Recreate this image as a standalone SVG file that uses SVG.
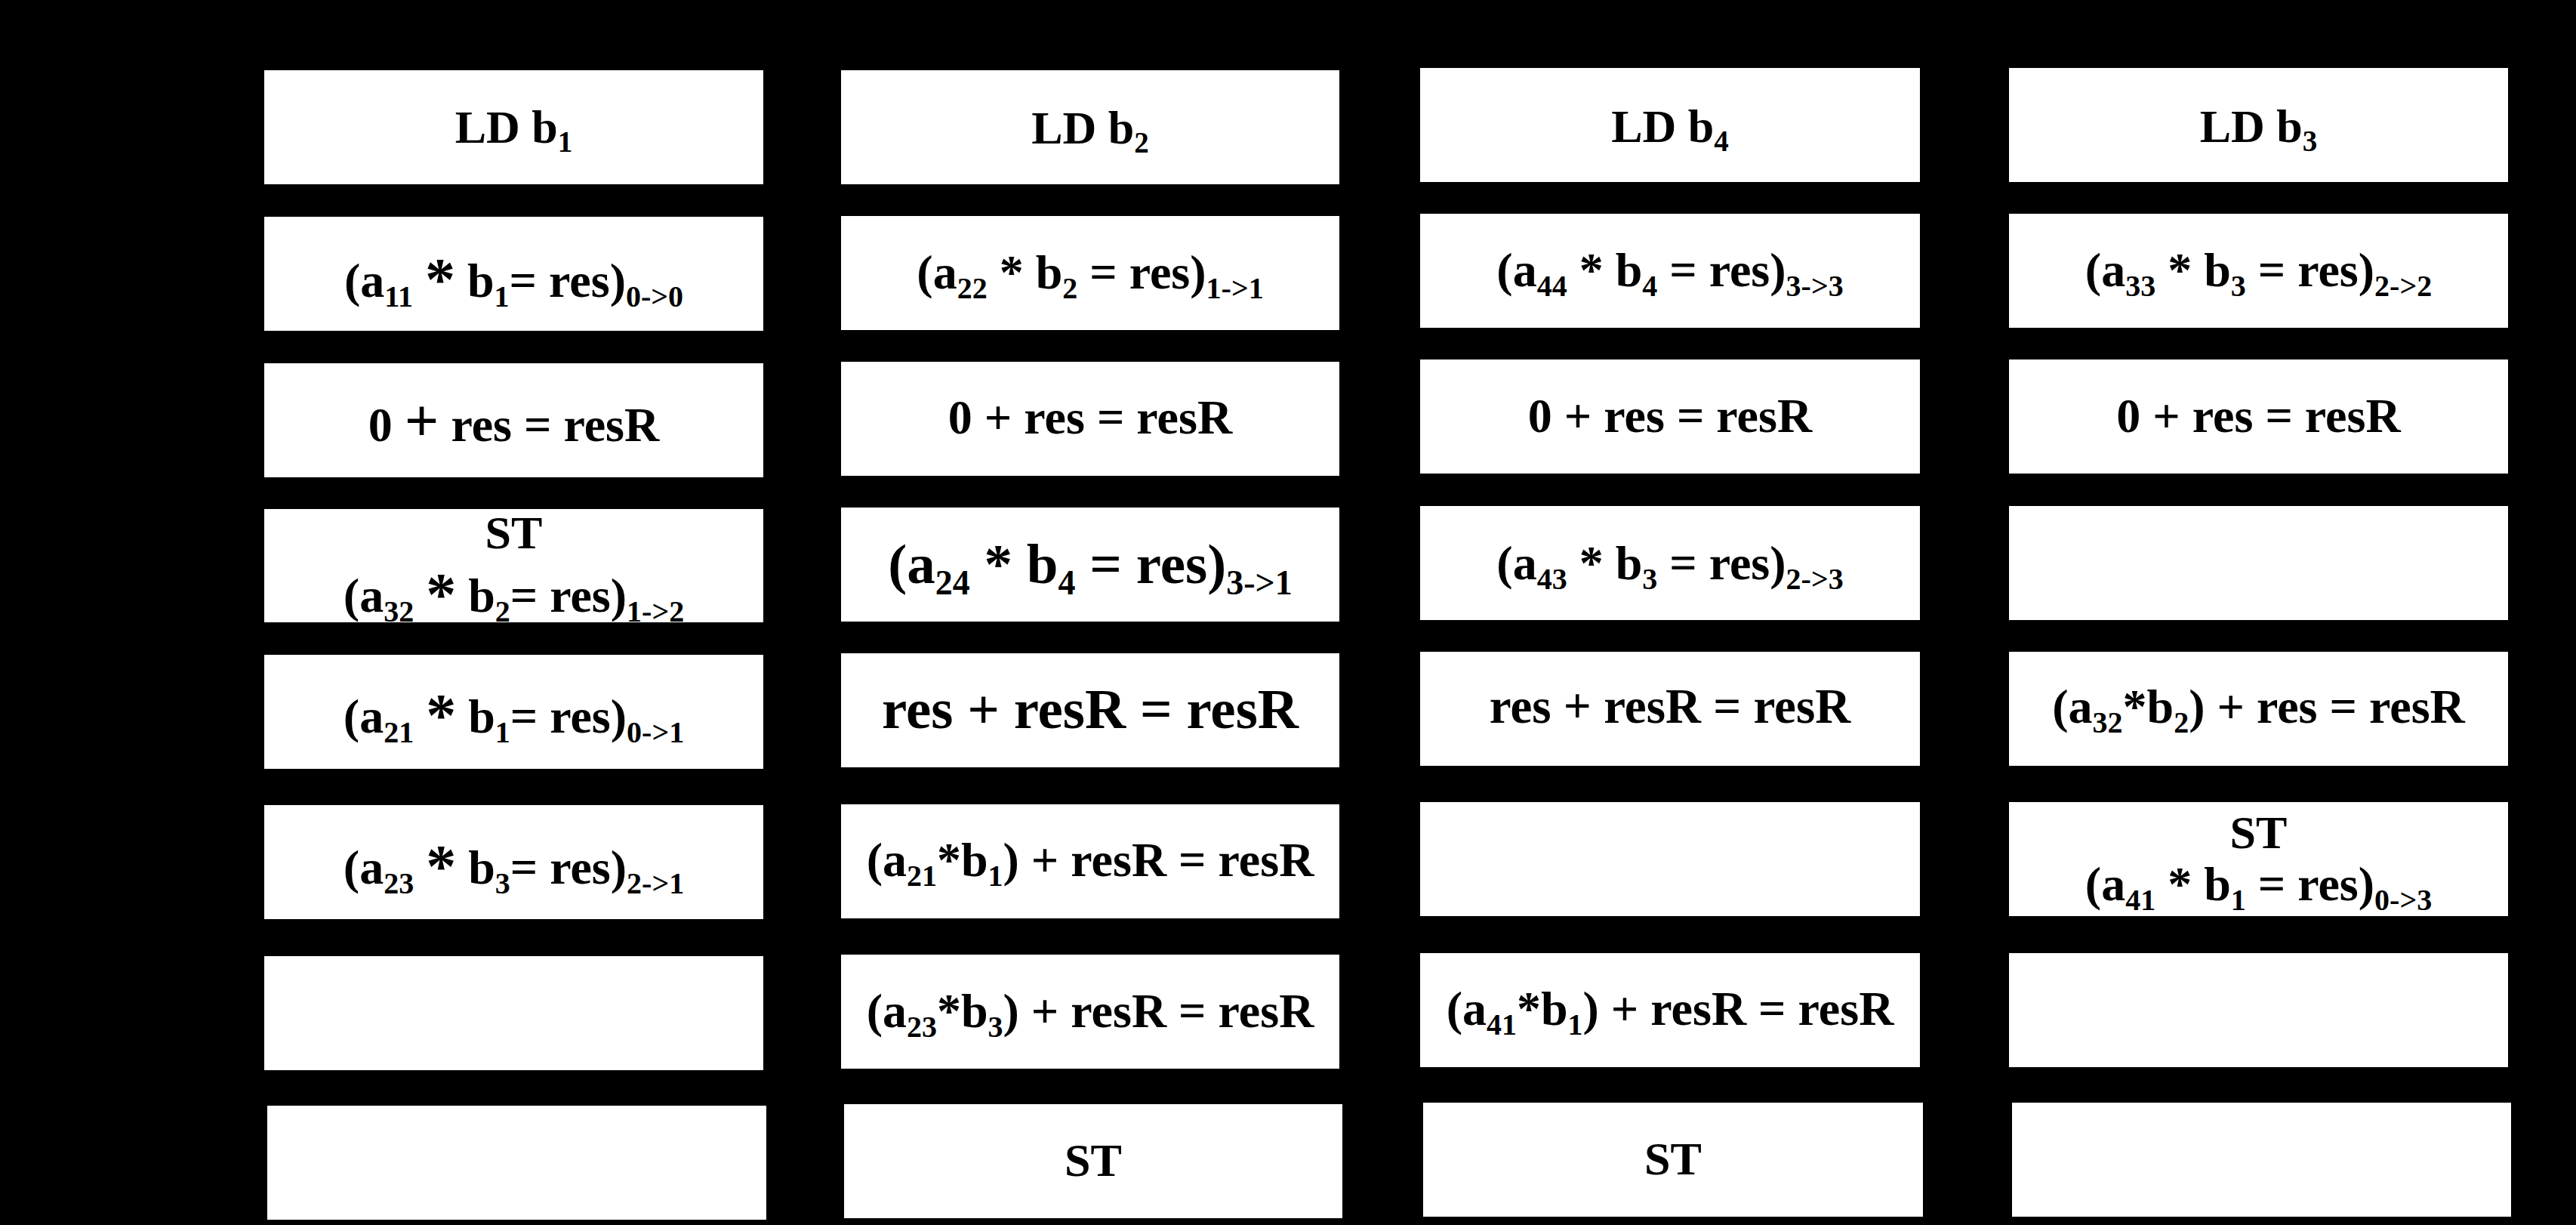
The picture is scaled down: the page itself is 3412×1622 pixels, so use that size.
<svg xmlns="http://www.w3.org/2000/svg" width="3412" height="1622" viewBox="0 0 3412 1622">
<style>
.bg{fill:#000}
.box{fill:#fff}
.t{font-family:"Liberation Serif","Times New Roman",serif;font-weight:bold;font-size:64px;fill:#000;text-anchor:middle;white-space:pre}
.ld{font-size:62px}
.big{font-size:75px}
.m65{font-size:65px}
.sb{font-size:40px}
.big .sb{font-size:46px}
.m65 .sb{font-size:40px}
.ld .sb{font-size:39px}
.ast{font-size:80px}
</style>
<rect class="bg" x="0" y="0" width="3412" height="1622"/>
<g id="connectors"></g>

<!-- Column 1 -->
<g id="c1r1"><rect class="box" x="350" y="93" width="661" height="151"/><text class="t ld" x="680.5" y="189">LD b<tspan class="sb" dy="12">1</tspan></text></g>
<g id="c1r2"><rect class="box" x="350" y="287" width="661" height="151"/><text class="t" x="680.5" y="393">(a<tspan class="sb" dy="13">11</tspan><tspan dy="-13"> </tspan><tspan class="ast" dy="4">*</tspan><tspan dy="-4"> b</tspan><tspan class="sb" dy="13">1</tspan><tspan dy="-13">= res)</tspan><tspan class="sb" dy="13">0-&gt;0</tspan></text></g>
<g id="c1r3"><rect class="box" x="350" y="481" width="661" height="151"/><text class="t" x="680.5" y="584">0 <tspan font-size="80">+</tspan> res = resR</text></g>
<g id="c1r4"><rect class="box" x="350" y="674" width="661" height="150"/><text class="t ld" x="680.5" y="726">ST</text><text class="t" x="680.5" y="810">(a<tspan class="sb" dy="13">32</tspan><tspan dy="-13"> </tspan><tspan class="ast" dy="4">*</tspan><tspan dy="-4"> b</tspan><tspan class="sb" dy="13">2</tspan><tspan dy="-13">= res)</tspan><tspan class="sb" dy="13">1-&gt;2</tspan></text></g>
<g id="c1r5"><rect class="box" x="350" y="867" width="661" height="151"/><text class="t" x="680.5" y="970">(a<tspan class="sb" dy="13">21</tspan><tspan dy="-13"> </tspan><tspan class="ast" dy="4">*</tspan><tspan dy="-4"> b</tspan><tspan class="sb" dy="13">1</tspan><tspan dy="-13">= res)</tspan><tspan class="sb" dy="13">0-&gt;1</tspan></text></g>
<g id="c1r6"><rect class="box" x="350" y="1066" width="661" height="151"/><text class="t" x="680.5" y="1170">(a<tspan class="sb" dy="13">23</tspan><tspan dy="-13"> </tspan><tspan class="ast" dy="4">*</tspan><tspan dy="-4"> b</tspan><tspan class="sb" dy="13">3</tspan><tspan dy="-13">= res)</tspan><tspan class="sb" dy="13">2-&gt;1</tspan></text></g>
<g id="c1r7"><rect class="box" x="350" y="1266" width="661" height="151"/></g>
<g id="c1r8"><rect class="box" x="354" y="1464" width="661" height="151"/></g>

<!-- Column 2 -->
<g id="c2r1"><rect class="box" x="1114" y="93" width="660" height="151"/><text class="t ld" x="1444" y="190">LD b<tspan class="sb" dy="12">2</tspan></text></g>
<g id="c2r2"><rect class="box" x="1114" y="286" width="660" height="151"/><text class="t" x="1444" y="382">(a<tspan class="sb" dy="13">22</tspan><tspan dy="-13"> * b</tspan><tspan class="sb" dy="13">2</tspan><tspan dy="-13"> = res)</tspan><tspan class="sb" dy="13">1-&gt;1</tspan></text></g>
<g id="c2r3"><rect class="box" x="1114" y="479" width="660" height="151"/><text class="t" x="1444" y="574">0 + res = resR</text></g>
<g id="c2r4"><rect class="box" x="1114" y="672" width="660" height="151"/><text class="t big" x="1444" y="772">(a<tspan class="sb" dy="15">24</tspan><tspan dy="-15"> * b</tspan><tspan class="sb" dy="15">4</tspan><tspan dy="-15"> = res)</tspan><tspan class="sb" dy="15">3-&gt;1</tspan></text></g>
<g id="c2r5"><rect class="box" x="1114" y="865" width="660" height="151"/><text class="t big" x="1444" y="964">res + resR = resR</text></g>
<g id="c2r6"><rect class="box" x="1114" y="1065" width="660" height="151"/><text class="t" x="1444" y="1160">(a<tspan class="sb" dy="13">21</tspan><tspan dy="-13">*b</tspan><tspan class="sb" dy="13">1</tspan><tspan dy="-13">) + resR = resR</tspan></text></g>
<g id="c2r7"><rect class="box" x="1114" y="1264" width="660" height="151"/><text class="t" x="1444" y="1360">(a<tspan class="sb" dy="13">23</tspan><tspan dy="-13">*b</tspan><tspan class="sb" dy="13">3</tspan><tspan dy="-13">) + resR = resR</tspan></text></g>
<g id="c2r8"><rect class="box" x="1118" y="1462" width="660" height="151"/><text class="t ld" x="1448" y="1557">ST</text></g>

<!-- Column 3 -->
<g id="c3r1"><rect class="box" x="1881" y="90" width="662" height="151"/><text class="t ld" x="2212" y="188">LD b<tspan class="sb" dy="12">4</tspan></text></g>
<g id="c3r2"><rect class="box" x="1881" y="283" width="662" height="151"/><text class="t" x="2212" y="379">(a<tspan class="sb" dy="13">44</tspan><tspan dy="-13"> * b</tspan><tspan class="sb" dy="13">4</tspan><tspan dy="-13"> = res)</tspan><tspan class="sb" dy="13">3-&gt;3</tspan></text></g>
<g id="c3r3"><rect class="box" x="1881" y="476" width="662" height="151"/><text class="t" x="2212" y="572">0 + res = resR</text></g>
<g id="c3r4"><rect class="box" x="1881" y="670" width="662" height="151"/><text class="t" x="2212" y="767">(a<tspan class="sb" dy="13">43</tspan><tspan dy="-13"> * b</tspan><tspan class="sb" dy="13">3</tspan><tspan dy="-13"> = res)</tspan><tspan class="sb" dy="13">2-&gt;3</tspan></text></g>
<g id="c3r5"><rect class="box" x="1881" y="863" width="662" height="151"/><text class="t m65" x="2212" y="957">res + resR = resR</text></g>
<g id="c3r6"><rect class="box" x="1881" y="1062" width="662" height="151"/></g>
<g id="c3r7"><rect class="box" x="1881" y="1262" width="662" height="151"/><text class="t" x="2212" y="1357">(a<tspan class="sb" dy="13">41</tspan><tspan dy="-13">*b</tspan><tspan class="sb" dy="13">1</tspan><tspan dy="-13">) + resR = resR</tspan></text></g>
<g id="c3r8"><rect class="box" x="1885" y="1460" width="662" height="151"/><text class="t ld" x="2216" y="1555">ST</text></g>

<!-- Column 4 -->
<g id="c4r1"><rect class="box" x="2661" y="90" width="661" height="151"/><text class="t ld" x="2991.5" y="188">LD b<tspan class="sb" dy="12">3</tspan></text></g>
<g id="c4r2"><rect class="box" x="2661" y="283" width="661" height="151"/><text class="t" x="2991.5" y="379">(a<tspan class="sb" dy="13">33</tspan><tspan dy="-13"> * b</tspan><tspan class="sb" dy="13">3</tspan><tspan dy="-13"> = res)</tspan><tspan class="sb" dy="13">2-&gt;2</tspan></text></g>
<g id="c4r3"><rect class="box" x="2661" y="476" width="661" height="151"/><text class="t" x="2991.5" y="572">0 + res = resR</text></g>
<g id="c4r4"><rect class="box" x="2661" y="670" width="661" height="151"/></g>
<g id="c4r5"><rect class="box" x="2661" y="863" width="661" height="151"/><text class="t" x="2991.5" y="957">(a<tspan class="sb" dy="13">32</tspan><tspan dy="-13">*b</tspan><tspan class="sb" dy="13">2</tspan><tspan dy="-13">) + res = resR</tspan></text></g>
<g id="c4r6"><rect class="box" x="2661" y="1062" width="661" height="151"/><text class="t ld" x="2991.5" y="1123">ST</text><text class="t" x="2991.5" y="1192">(a<tspan class="sb" dy="13">41</tspan><tspan dy="-13"> * b</tspan><tspan class="sb" dy="13">1</tspan><tspan dy="-13"> = res)</tspan><tspan class="sb" dy="13">0-&gt;3</tspan></text></g>
<g id="c4r7"><rect class="box" x="2661" y="1262" width="661" height="151"/></g>
<g id="c4r8"><rect class="box" x="2665" y="1460" width="661" height="151"/></g>
</svg>
